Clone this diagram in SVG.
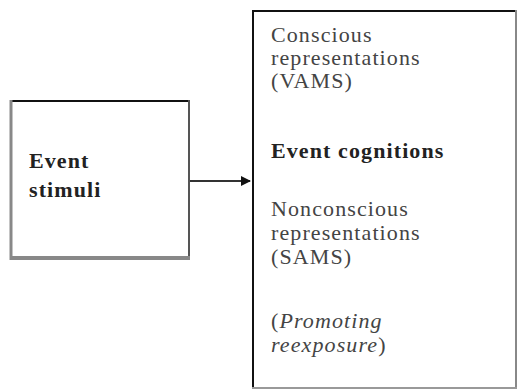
<svg xmlns="http://www.w3.org/2000/svg" width="520" height="390" viewBox="0 0 520 390">
  <style>
    .t { font-family: "Liberation Serif", "Times New Roman", serif; font-size: 22px; letter-spacing: 1.1px; fill: #444; }
    .b { font-weight: bold; fill: #222; }
    .i { font-style: italic; }
  </style>
  <defs>
    <marker id="arrow" viewBox="0 0 10 10" refX="9" refY="5" markerWidth="10" markerHeight="10" markerUnits="userSpaceOnUse" orient="auto">
      <path d="M0,0 L10,5 L0,10 z" fill="#111"/>
    </marker>
  </defs>
  <rect width="520" height="390" fill="#fff"/>

  <!-- Event stimuli box -->
  <g id="event-stimuli">
    <line x1="10" y1="101" x2="190" y2="101" stroke="#111" stroke-width="2"/>
    <line x1="11" y1="100" x2="11" y2="260" stroke="#888" stroke-width="3"/>
    <line x1="189" y1="100" x2="189" y2="260" stroke="#555" stroke-width="2"/>
    <line x1="10" y1="258" x2="190" y2="258" stroke="#888" stroke-width="4"/>
    <text class="t b" x="29" y="168">Event</text>
    <text class="t b" x="29" y="197">stimuli</text>
  </g>

  <!-- Event cognitions box -->
  <g id="event-cognitions">
    <line x1="252" y1="11" x2="517" y2="11" stroke="#111" stroke-width="2"/>
    <line x1="253" y1="10" x2="253" y2="389" stroke="#111" stroke-width="2"/>
    <line x1="516" y1="10" x2="516" y2="389" stroke="#888" stroke-width="2"/>
    <line x1="252" y1="388" x2="517" y2="388" stroke="#999" stroke-width="2"/>
    <text class="t" x="271" y="42">Conscious</text>
    <text class="t" x="271" y="65">representations</text>
    <text class="t" x="271" y="88">(VAMS)</text>
    <text class="t b" x="271" y="158">Event cognitions</text>
    <text class="t" x="271" y="216">Nonconscious</text>
    <text class="t" x="271" y="240">representations</text>
    <text class="t" x="271" y="264">(SAMS)</text>
    <text class="t" x="271" y="328">(<tspan class="i">Promoting</tspan></text>
    <text class="t" x="271" y="352"><tspan class="i">reexposure</tspan>)</text>
  </g>

  <!-- connectors -->
  <g id="connectors">
    <line x1="190" y1="181" x2="250" y2="181" stroke="#333" stroke-width="2" marker-end="url(#arrow)"/>
  </g>
</svg>
